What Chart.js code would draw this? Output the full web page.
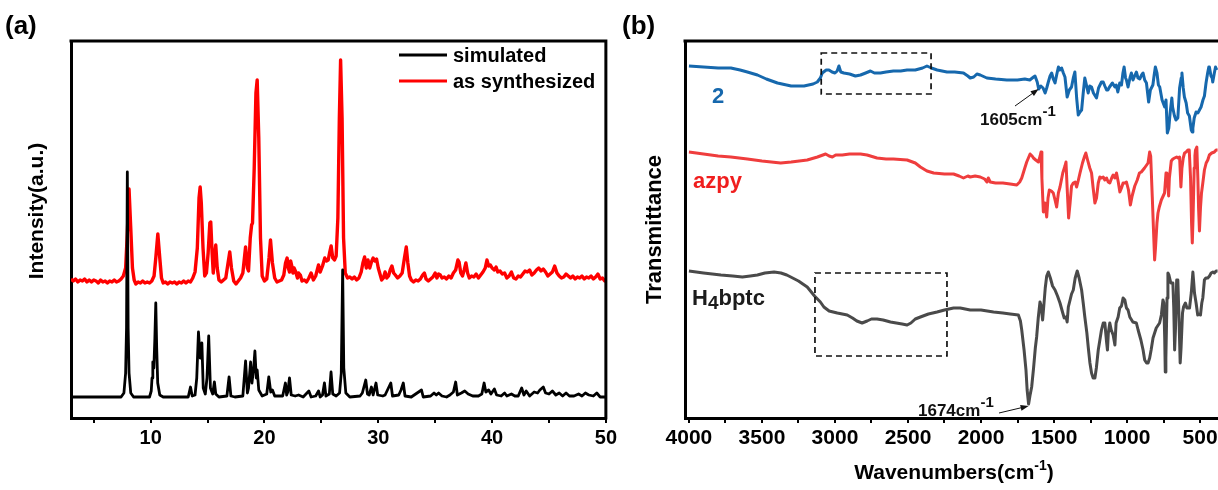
<!DOCTYPE html>
<html>
<head>
<meta charset="utf-8">
<script src="https://cdn.jsdelivr.net/npm/chart.js@4.4.0/dist/chart.umd.min.js"></script>
<style>
  body { margin: 0; background: #fff; width: 1218px; height: 490px; overflow: hidden; position: relative; }
  canvas { position: absolute; top: 0; }
  #xrd { left: 0; }
  #ftir { left: 620px; }
</style>
</head>
<body>
<canvas id="xrd" width="620" height="490"></canvas>
<canvas id="ftir" width="598" height="490"></canvas>
<script>
// (a) PXRD, 2theta in degrees vs. stacked intensity
const xrdTicks = [5, 10, 15, 20, 25, 30, 35, 40, 45, 50];

const simulated = [
  [3,21],[7.4,21],[7.65,25],[7.8,45],[7.88,90],[7.95,246],[8.02,90],[8.1,45],[8.25,25],[8.5,21],
  [9.9,21],[10.05,27],[10.12,40],[10.19,56],[10.28,50],[10.37,80],[10.45,115],[10.53,70],[10.62,35],[10.8,23],[11.1,21],
  [13.3,21],[13.5,31],[13.65,22],[13.9,23],[14.05,40],[14.2,86],[14.35,60],[14.5,75],[14.62,30],
  [14.8,24],[14.95,40],[15.1,82],[15.25,30],[15.45,24],[15.6,36],[15.72,24],[16,21],
  [16.7,22],[16.89,41],[17.05,22],[17.4,21],
  [18.1,22],[18.34,57],[18.5,25],[18.6,30],[18.78,56],[18.9,35],[19.05,50],[19.16,67],[19.28,40],
  [19.36,48],[19.5,28],[19.8,22],[20.2,24],[20.38,41],[20.55,26],[20.7,28],[20.9,22],
  [21.6,22],[21.84,35],[21.95,23],[22.05,26],[22.2,40],[22.35,23],[22.7,22],[23.0,23],[23.4,21],
  [23.9,27],[24.1,21],[24.5,22],[24.75,27],[24.9,21],[25.1,23],[25.27,35],[25.4,22],[25.7,24],
  [25.85,46],[26.0,24],[26.3,22],[26.6,25],[26.75,45],[26.87,148],[26.97,50],[27.15,25],[27.5,21],
  [28.4,22],[28.6,25],[28.9,38],[29.05,24],[29.2,23],[29.4,31],[29.55,23],[29.8,35],[29.95,23],
  [30.4,22],[30.6,23],[31.1,35],[31.25,22],[31.8,23],[32.0,28],[32.2,35],[32.35,22],[32.9,21],
  [33.8,28],[33.95,21],[34.6,22],[34.9,25],[35.1,23],[35.3,25],[35.6,22],[36.0,21],[36.3,23],
  [36.6,26],[36.8,36],[36.95,23],[37.3,25],[37.6,27],[37.9,24],[38.3,22],[38.8,22],[39.1,24],
  [39.3,35],[39.45,26],[39.7,28],[39.9,24],[40.2,29],[40.4,23],[40.8,22],[41.1,25],[41.3,22],
  [41.7,24],[42.0,22],[42.3,22],[42.6,30],[42.8,23],[43.0,27],[43.3,22],[43.7,26],[44.0,25],
  [44.2,28],[44.5,31],[44.7,25],[45.0,24],[45.3,27],[45.6,23],[45.9,25],[46.2,22],[46.5,25],
  [46.8,22],[47.2,22],[47.6,24],[47.9,22],[48.2,25],[48.5,23],[48.9,22],[49.2,25],[49.5,21],[50,21]
];

const synthesized = [
  [3.0,139],[3.2,137],[3.4,139],[3.6,136],[3.8,138],[4.0,137],[4.2,139],[4.4,136],[4.6,138],
  [4.8,136],[5.0,138],[5.2,137],[5.4,135],[5.6,138],[5.8,136],[6.0,137],[6.2,135],[6.4,137],
  [6.6,136],[6.8,138],[7.0,136],[7.2,137],[7.4,139],[7.6,142],[7.8,150],[7.95,185],[8.1,229],
  [8.25,190],[8.4,150],[8.55,138],[8.7,134],[8.9,136],[9.1,135],[9.3,137],[9.5,135],[9.7,136],
  [9.9,135],[10.1,137],[10.3,142],[10.45,160],[10.63,184],[10.8,160],[10.95,140],[11.1,135],
  [11.3,136],[11.5,134],[11.7,136],[11.9,135],[12.1,136],[12.3,134],[12.5,136],[12.7,135],
  [12.9,137],[13.1,135],[13.3,137],[13.5,136],[13.7,140],[13.9,146],[14.1,170],[14.25,220],
  [14.35,231],[14.45,215],[14.6,170],[14.75,142],[14.9,145],[15.05,165],[15.2,195],[15.28,196],
  [15.4,165],[15.5,145],[15.6,160],[15.72,173],[15.85,150],[16.0,138],[16.2,136],[16.4,138],
  [16.6,140],[16.8,155],[16.95,166],[17.1,150],[17.3,137],[17.5,134],[17.7,137],[17.9,140],
  [18.1,145],[18.34,171],[18.5,150],[18.6,147],[18.75,180],[18.87,193],[18.95,195],[19.1,250],
  [19.25,325],[19.36,338],[19.5,280],[19.65,180],[19.8,142],[20.0,137],[20.2,139],[20.4,160],
  [20.53,178],[20.7,155],[20.9,140],[21.1,136],[21.3,137],[21.5,138],[21.7,143],[21.85,155],
  [21.99,160],[22.1,150],[22.2,146],[22.3,157],[22.4,152],[22.5,145],[22.6,150],[22.75,146],
  [22.9,140],[23.0,145],[23.15,143],[23.3,137],[23.5,138],[23.7,136],[23.9,140],[24.1,145],
  [24.3,138],[24.5,142],[24.75,153],[24.9,146],[25.1,152],[25.3,160],[25.45,157],[25.6,158],
  [25.72,165],[25.86,172],[26.0,160],[26.15,158],[26.3,162],[26.45,200],[26.58,300],[26.69,358],
  [26.82,300],[26.95,180],[27.1,145],[27.3,140],[27.5,141],[27.7,139],[27.9,141],[28.1,138],
  [28.3,140],[28.5,146],[28.65,155],[28.8,161],[28.95,150],[29.1,158],[29.25,150],[29.4,156],
  [29.55,160],[29.7,157],[29.85,159],[30.0,150],[30.15,144],[30.3,138],[30.45,140],[30.6,146],
  [30.75,140],[30.9,142],[31.05,148],[31.2,152],[31.35,145],[31.5,143],[31.7,140],[31.9,142],
  [32.1,145],[32.3,160],[32.46,171],[32.6,155],[32.75,142],[32.9,138],[33.1,136],[33.3,138],
  [33.5,137],[33.7,139],[33.9,143],[34.05,145],[34.2,139],[34.4,137],[34.6,139],[34.8,141],
  [35.0,145],[35.15,140],[35.3,144],[35.45,143],[35.6,140],[35.8,141],[36.0,139],[36.2,142],
  [36.4,140],[36.6,145],[36.8,148],[37.0,158],[37.1,156],[37.25,145],[37.4,142],[37.55,148],
  [37.7,155],[37.85,145],[38.0,140],[38.2,142],[38.4,141],[38.6,144],[38.8,140],[39.0,143],
  [39.2,146],[39.4,150],[39.55,158],[39.7,152],[39.85,153],[40.0,150],[40.2,148],[40.35,151],
  [40.5,146],[40.7,147],[40.9,144],[41.1,145],[41.3,140],[41.5,142],[41.7,146],[41.9,140],
  [42.1,139],[42.3,142],[42.5,141],[42.7,144],[42.9,147],[43.1,146],[43.3,148],[43.5,143],
  [43.7,145],[43.9,148],[44.1,150],[44.3,147],[44.5,149],[44.7,146],[44.9,142],[45.1,144],
  [45.3,146],[45.5,152],[45.7,145],[45.9,142],[46.1,140],[46.3,141],[46.5,144],[46.7,142],
  [46.9,140],[47.1,142],[47.3,139],[47.5,141],[47.7,140],[47.9,142],[48.1,139],[48.3,141],
  [48.5,140],[48.7,142],[48.9,139],[49.1,141],[49.3,144],[49.5,139],[49.7,140],[49.9,137],[50.0,138]
];

// (b) FT-IR, wavenumber (cm-1) vs. offset transmittance
const irTicks = [500, 750, 1000, 1250, 1500, 1750, 2000, 2250, 2500, 2750, 3000, 3250, 3500, 3750, 4000];

const ir2 = [
  [4000,352],[3900,351],[3800,350],[3713,350],[3650,348],[3600,346],[3531,343],[3470,339],[3394,335],
  [3300,332],[3212,332],[3150,334],[3121,336],[3100,340],[3087,345],[3060,348],[3041,348],[3020,346],
  [3000,345],[2985,347],[2973,352],[2960,346],[2939,345],[2900,344],[2860,342],[2825,343],[2790,345],
  [2757,347],[2730,345],[2689,345],[2650,346],[2600,347],[2550,347],[2506,348],[2450,348],[2400,350],
  [2370,352],[2340,350],[2300,348],[2233,346],[2180,346],[2120,345],[2090,342],[2074,340],[2050,341],
  [2028,344],[2005,343],[1960,340],[1900,339],[1823,338],[1750,338],[1700,339],[1666,338],[1640,341],
  [1630,342],[1615,336],[1605,329],[1590,332],[1575,330],[1561,325],[1550,330],[1539,336],[1527,342],
  [1516,345],[1505,339],[1493,335],[1482,343],[1470,351],[1460,348],[1448,350],[1436,345],[1425,341],
  [1410,321],[1395,328],[1380,331],[1368,340],[1357,346],[1345,320],[1334,303],[1322,306],[1311,308],
  [1300,325],[1289,340],[1278,333],[1266,325],[1255,332],[1243,331],[1230,325],[1209,320],[1195,330],
  [1175,336],[1163,336],[1152,332],[1140,328],[1131,328],[1120,331],[1100,335],[1083,331],[1074,333],
  [1063,326],[1050,335],[1038,333],[1028,345],[1020,351],[1010,340],[1004,338],[993,331],[980,340],
  [970,345],[959,338],[948,342],[936,346],[925,340],[913,339],[900,343],[890,345],[879,338],[867,335],
  [852,316],[840,328],[823,333],[815,342],[806,351],[795,345],[785,333],[776,331],[760,318],[742,311],
  [733,318],[724,285],[714,290],[705,305],[693,320],[688,311],[675,302],[665,298],[652,300],[640,330],
  [629,340],[624,345],[615,330],[607,321],[595,315],[585,305],[573,302],[560,288],[553,286],[549,290],
  [540,300],[527,306],[515,305],[504,308],[493,311],[480,318],[470,322],[459,335],[448,345],[440,351],
  [436,351],[425,342],[417,340],[413,336],[402,345],[394,351],[385,348]
];

const irAzpy = [
  [4000,266],[3900,264],[3800,262],[3713,261],[3600,259],[3500,257],[3372,255],[3300,256],[3190,258],
  [3120,261],[3064,264],[3040,262],[3018,261],[2995,263],[2984,263],[2950,263],[2900,264],[2825,264],
  [2780,263],[2712,260],[2650,259],[2600,259],[2506,258],[2450,255],[2415,251],[2370,247],[2324,245],
  [2250,244],[2188,244],[2150,242],[2120,240],[2090,242],[2074,241],[2040,242],[2005,241],[1975,239],
  [1959,236],[1950,240],[1937,236],[1900,235],[1850,235],[1800,234],[1755,233],[1735,236],[1721,240],
  [1700,250],[1687,256],[1664,264],[1650,262],[1641,260],[1625,258],[1607,256],[1595,262],[1589,266],
  [1583,240],[1573,206],[1562,215],[1550,201],[1541,220],[1532,228],[1518,227],[1505,225],[1493,218],
  [1482,211],[1470,225],[1459,231],[1440,245],[1425,252],[1418,256],[1410,230],[1400,200],[1390,215],
  [1380,232],[1368,235],[1355,236],[1345,231],[1333,238],[1322,245],[1305,255],[1290,262],[1282,265],
  [1270,258],[1255,250],[1243,245],[1232,230],[1220,215],[1209,220],[1197,235],[1186,241],[1175,240],
  [1163,241],[1152,238],[1140,240],[1129,236],[1118,235],[1105,240],[1095,243],[1083,240],[1072,245],
  [1060,236],[1049,226],[1038,230],[1027,235],[1015,235],[1004,236],[990,228],[977,213],[965,222],
  [947,232],[930,238],[915,245],[902,246],[880,250],[856,255],[845,266],[838,262],[827,221],[818,185],
  [811,158],[805,170],[795,195],[788,205],[779,211],[765,218],[743,225],[733,245],[727,243],[720,232],
  [715,222],[710,240],[697,257],[686,259],[674,260],[660,261],[650,260],[640,261],[631,231],[624,250],
  [615,260],[606,265],[595,266],[583,268],[574,268],[565,240],[558,195],[553,175],[548,200],[540,250],
  [535,262],[531,268],[522,271],[515,240],[510,210],[504,187],[497,210],[490,225],[481,235],[470,248],
  [458,255],[447,258],[436,263],[420,265],[402,266],[390,268],[380,268]
];

const irH4bptc = [
  [4000,147],[3900,145],[3781,143],[3700,142],[3634,141],[3580,142],[3531,143],[3480,145],[3417,146],
  [3370,145],[3330,143],[3303,141],[3250,137],[3190,131],[3140,122],[3100,116],[3076,111],[3040,107],
  [2984,105],[2950,104],[2916,103],[2880,100],[2850,97],[2814,95],[2780,97],[2750,99],[2712,99],
  [2670,98],[2620,96],[2580,95],[2540,94],[2506,93],[2480,95],[2450,99],[2415,101],[2360,104],
  [2301,106],[2250,108],[2188,110],[2142,110],[2074,108],[2000,108],[1914,106],[1850,105],[1800,104],
  [1744,103],[1730,97],[1721,88],[1705,68],[1692,48],[1684,28],[1674,14],[1665,22],[1653,31],
  [1640,50],[1628,70],[1619,81],[1608,100],[1596,116],[1588,112],[1578,98],[1570,112],[1560,130],
  [1550,142],[1539,146],[1525,140],[1510,132],[1493,128],[1476,122],[1459,115],[1440,105],[1430,100],
  [1418,101],[1410,96],[1402,111],[1390,118],[1380,124],[1368,128],[1355,140],[1341,147],[1328,140],
  [1311,128],[1300,115],[1289,101],[1275,85],[1265,70],[1254,55],[1243,45],[1232,40],[1220,40],
  [1210,50],[1197,68],[1186,78],[1175,88],[1163,95],[1152,95],[1140,76],[1134,68],[1128,85],
  [1118,95],[1108,88],[1095,83],[1083,73],[1075,95],[1061,101],[1050,110],[1038,112],[1027,120],
  [1015,118],[1004,110],[993,108],[981,101],[960,96],[936,95],[924,88],[905,78],[890,68],[879,58],
  [866,55],[856,55],[845,60],[835,68],[822,80],[800,90],[777,95],[765,103],[754,118],[748,115],
  [742,80],[738,46],[734,60],[726,120],[720,145],[713,143],[700,135],[686,135],[680,110],[674,68],
  [668,90],[660,138],[652,138],[644,100],[636,55],[630,70],[620,105],[613,111],[600,115],[590,110],
  [572,110],[560,125],[549,146],[543,135],[538,125],[527,115],[516,103],[505,104],[497,103],[488,115],
  [481,120],[470,138],[460,140],[447,140],[435,142],[424,145],[412,146],[402,145],[390,147],[380,147]
];

// marked bands (cm-1) and the dashed regions [from, to, low, high]
const bands = [1605, 1674];
const regions = [[3094, 2342, 324, 365], [3137, 2233, 62, 145]];

const FONT = '"Liberation Sans", Arial, Helvetica, sans-serif';
Chart.defaults.font.family = FONT;
Chart.defaults.color = '#000';

const pts = arr => arr.map(([x, y]) => ({ x, y }));

function fixedSize(w) { return s => { s.width = w; }; }
function fixedHeight(h) { return s => { s.height = h; }; }

function supText(ctx, parts, x, y, align) {
  // parts: [text, font, dy]
  let total = 0;
  parts.forEach(p => { ctx.font = p[1]; total += ctx.measureText(p[0]).width; });
  let cx = align === 'center' ? x - total / 2 : x;
  ctx.textAlign = 'left';
  parts.forEach(p => {
    ctx.font = p[1];
    ctx.fillText(p[0], cx, y + (p[2] || 0));
    cx += ctx.measureText(p[0]).width;
  });
}

function arrow(ctx, x1, y1, x2, y2) {
  const a = Math.atan2(y2 - y1, x2 - x1);
  ctx.beginPath();
  ctx.moveTo(x1, y1);
  ctx.lineTo(x2 - 6 * Math.cos(a), y2 - 6 * Math.sin(a));
  ctx.stroke();
  ctx.beginPath();
  ctx.moveTo(x2, y2);
  ctx.lineTo(x2 - 8 * Math.cos(a) + 3 * Math.sin(a), y2 - 8 * Math.sin(a) - 3 * Math.cos(a));
  ctx.lineTo(x2 - 8 * Math.cos(a) - 3 * Math.sin(a), y2 - 8 * Math.sin(a) + 3 * Math.cos(a));
  ctx.closePath();
  ctx.fill();
}

const xrdDecor = {
  id: 'xrdDecor',
  afterDraw(chart) {
    const { ctx, chartArea: a } = chart;
    ctx.save();
    ctx.strokeStyle = '#000';
    ctx.lineWidth = 3;
    ctx.lineCap = 'square';
    ctx.beginPath();
    ctx.moveTo(a.left, a.top);
    ctx.lineTo(a.right, a.top);
    ctx.lineTo(a.right, a.bottom);
    ctx.stroke();

    // legend
    ctx.lineCap = 'butt';
    chart.data.datasets.forEach((ds, i) => {
      const y = 55 + i * 26;
      ctx.strokeStyle = ds.borderColor;
      ctx.beginPath();
      ctx.moveTo(399, y);
      ctx.lineTo(447, y);
      ctx.stroke();
      ctx.fillStyle = '#000';
      ctx.font = 'bold 20px ' + FONT;
      ctx.textBaseline = 'middle';
      ctx.textAlign = 'left';
      ctx.fillText(ds.label, 453, y + 1);
    });

    // y title sits a little above the axis centre
    ctx.save();
    ctx.translate(37, 211);
    ctx.rotate(-Math.PI / 2);
    ctx.font = 'bold 21px ' + FONT;
    ctx.textAlign = 'center';
    ctx.textBaseline = 'middle';
    ctx.fillText('Intensity(a.u.)', 0, 0);
    ctx.restore();

    ctx.font = 'bold 26px ' + FONT;
    ctx.textBaseline = 'middle';
    ctx.textAlign = 'left';
    ctx.fillText('(a)', 5, 27);
    ctx.restore();
  }
};

const ftirDecor = {
  id: 'ftirDecor',
  afterDraw(chart) {
    const { ctx, chartArea: a, scales: { x, y } } = chart;
    ctx.save();
    ctx.strokeStyle = '#000';
    ctx.lineWidth = 3;
    ctx.lineCap = 'square';
    ctx.beginPath();
    ctx.moveTo(a.left, a.top);
    ctx.lineTo(a.right + 2, a.top);
    ctx.stroke();

    // dashed regions
    ctx.lineWidth = 1.7;
    ctx.lineCap = 'butt';
    ctx.setLineDash([6, 4]);
    ctx.strokeStyle = '#111';
    regions.forEach(([w1, w2, lo, hi]) => {
      const x1 = x.getPixelForValue(w1), x2 = x.getPixelForValue(w2);
      const y1 = y.getPixelForValue(hi), y2 = y.getPixelForValue(lo);
      ctx.strokeRect(x1, y1, x2 - x1, y2 - y1);
    });
    ctx.setLineDash([]);

    // band labels with arrows
    ctx.fillStyle = '#111';
    ctx.strokeStyle = '#111';
    ctx.lineWidth = 1;
    ctx.textBaseline = 'alphabetic';
    supText(ctx, [[String(bands[0]) + 'cm', 'bold 17px ' + FONT], ['-1', 'bold 15px ' + FONT, -9]], 360, 125, 'left');
    arrow(ctx, 395, 106, x.getPixelForValue(bands[0]), y.getPixelForValue(329));
    supText(ctx, [[String(bands[1]) + 'cm', 'bold 17px ' + FONT], ['-1', 'bold 15px ' + FONT, -9]], 298, 416, 'left');
    arrow(ctx, 379, 413, x.getPixelForValue(bands[1]), y.getPixelForValue(12));

    // sample names
    chart.data.datasets.forEach(ds => {
      ctx.fillStyle = ds.labelColor;
      const [lx, ly] = ds.labelAt;
      if (ds.label === 'H4bptc') {
        supText(ctx, [['H', 'bold 22px ' + FONT], ['4', 'bold 19px ' + FONT, 4], ['bptc', 'bold 22px ' + FONT]], lx, ly, 'left');
      } else {
        ctx.font = 'bold 22px ' + FONT;
        ctx.fillText(ds.label, lx, ly);
      }
    });

    // axis title with superscript
    ctx.fillStyle = '#000';
    supText(ctx, [['Wavenumbers(cm', 'bold 21px ' + FONT], ['-1', 'bold 14px ' + FONT, -9], [')', 'bold 21px ' + FONT]], 334, 479, 'center');

    ctx.font = 'bold 26px ' + FONT;
    ctx.textBaseline = 'middle';
    ctx.textAlign = 'left';
    ctx.fillText('(b)', 2, 27);
    ctx.restore();
  }
};

const tickGrid = { display: true, drawOnChartArea: false, drawTicks: true, tickLength: 5, color: '#000', lineWidth: 2 };
const axisBorder = { display: true, color: '#000', width: 3 };

new Chart(document.getElementById('xrd'), {
  type: 'line',
  data: {
    datasets: [
      { label: 'simulated', data: pts(simulated), borderColor: '#000000', borderWidth: 2.8 },
      { label: 'as synthesized', data: pts(synthesized), borderColor: '#ff0000', borderWidth: 3.4 }
    ]
  },
  options: {
    responsive: false,
    animation: false,
    layout: { padding: { top: 41, right: 11, left: 0, bottom: 0 } },
    elements: { point: { radius: 0 }, line: { tension: 0, borderJoinStyle: 'round' } },
    plugins: { legend: { display: false }, tooltip: { enabled: false } },
    scales: {
      x: {
        type: 'linear', min: 3, max: 50,
        afterBuildTicks: s => { s.ticks = xrdTicks.map(v => ({ value: v })); },
        afterFit: fixedHeight(72),
        grid: tickGrid, border: axisBorder,
        ticks: { autoSkip: false, maxRotation: 0, padding: 3, font: { size: 20, weight: 'bold' },
                 callback: v => (v % 10 === 0 ? String(v) : '') }
      },
      y: {
        type: 'linear', min: 0, max: 377,
        afterFit: fixedSize(71),
        grid: { display: false }, border: axisBorder,
        ticks: { display: false }
      }
    }
  },
  plugins: [xrdDecor]
});

new Chart(document.getElementById('ftir'), {
  type: 'line',
  data: {
    datasets: [
      { label: '2', data: pts(ir2), borderColor: '#1668ad', borderWidth: 3, labelColor: '#1668ad', labelAt: [92, 103] },
      { label: 'azpy', data: pts(irAzpy), borderColor: '#ef3d3d', borderWidth: 3, labelColor: '#f01e1e', labelAt: [73, 188] },
      { label: 'H4bptc', data: pts(irH4bptc), borderColor: '#4a4a4a', borderWidth: 3, labelColor: '#1c1c1c', labelAt: [72, 305] }
    ]
  },
  options: {
    responsive: false,
    animation: false,
    layout: { padding: { top: 41, right: 0, left: 0, bottom: 0 } },
    elements: { point: { radius: 0 }, line: { tension: 0, borderJoinStyle: 'round' } },
    plugins: { legend: { display: false }, tooltip: { enabled: false } },
    scales: {
      x: {
        type: 'linear', min: 377, max: 4027, reverse: true,
        afterBuildTicks: s => { s.ticks = irTicks.map(v => ({ value: v })); },
        afterFit: fixedHeight(72),
        grid: tickGrid, border: axisBorder,
        ticks: { autoSkip: false, maxRotation: 0, padding: 3, font: { size: 21, weight: 'bold' },
                 callback: v => (v % 500 === 0 ? String(v) : '') }
      },
      y: {
        type: 'linear', min: 0, max: 377,
        afterFit: fixedSize(65),
        grid: { display: false }, border: axisBorder,
        ticks: { display: false },
        title: { display: true, text: 'Transmittance', font: { size: 22, weight: 'bold' }, padding: { top: 22, bottom: 0 } }
      }
    }
  },
  plugins: [ftirDecor]
});
</script>
</body>
</html>
